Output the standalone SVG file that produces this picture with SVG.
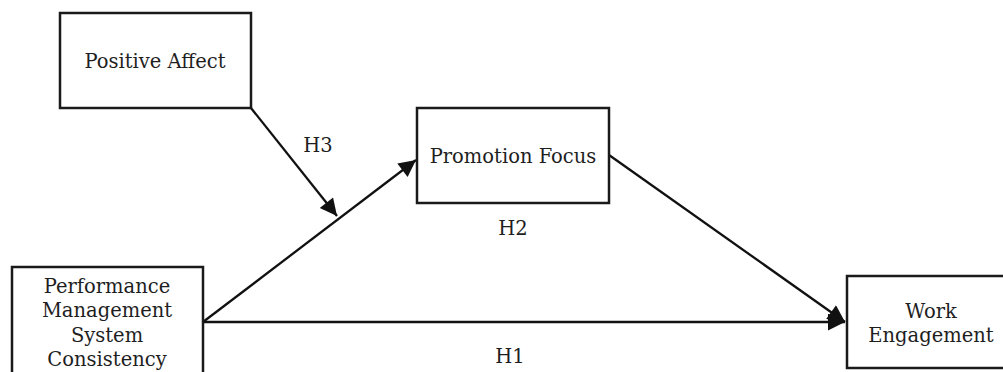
<svg xmlns="http://www.w3.org/2000/svg" width="1003" height="372" viewBox="0 0 1003 372">
<style>
.box{fill:#fff;stroke:#1a1a1a;stroke-width:2.5}
.t{font-family:"DejaVu Serif","Liberation Serif",serif;font-size:19.5px;fill:#1e1e1e;text-anchor:middle}
.c{stroke:#111;stroke-width:2.3;fill:none}
</style>
<defs>
<marker id="ahl" viewBox="0 0 10 10" refX="10" refY="5" markerWidth="21" markerHeight="17" markerUnits="userSpaceOnUse" orient="auto">
<path d="M0,0 L10,5 L0,10 z" fill="#111"/>
</marker>
</defs>
<rect width="1003" height="372" fill="#fff"/>
<g id="connectors">
<line class="c" x1="203" y1="322" x2="416" y2="160" marker-end="url(#ahl)"/>
<line class="c" x1="203" y1="322" x2="845" y2="322" marker-end="url(#ahl)"/>
<line class="c" x1="609" y1="155" x2="845" y2="322" marker-end="url(#ahl)"/>
<line class="c" x1="251" y1="108" x2="337" y2="216" marker-end="url(#ahl)"/>
<text class="t" x="318" y="152">H3</text>
<text class="t" x="513" y="235">H2</text>
<text class="t" x="510" y="363">H1</text>
</g>
<g id="positive-affect">
<rect class="box" x="60" y="13" width="191" height="95"/>
<text class="t" x="155" y="68">Positive Affect</text>
</g>
<g id="promotion-focus">
<rect class="box" x="417" y="108" width="192" height="95"/>
<text class="t" x="513" y="163">Promotion Focus</text>
</g>
<g id="pms-consistency">
<rect class="box" x="12" y="267" width="191" height="120"/>
<text class="t" x="107" y="293">Performance</text>
<text class="t" x="107" y="317">Management</text>
<text class="t" x="107" y="342">System</text>
<text class="t" x="107" y="366">Consistency</text>
</g>
<g id="work-engagement">
<rect class="box" x="847" y="276" width="170" height="92"/>
<text class="t" x="931" y="318">Work</text>
<text class="t" x="931" y="342">Engagement</text>
</g>
</svg>
